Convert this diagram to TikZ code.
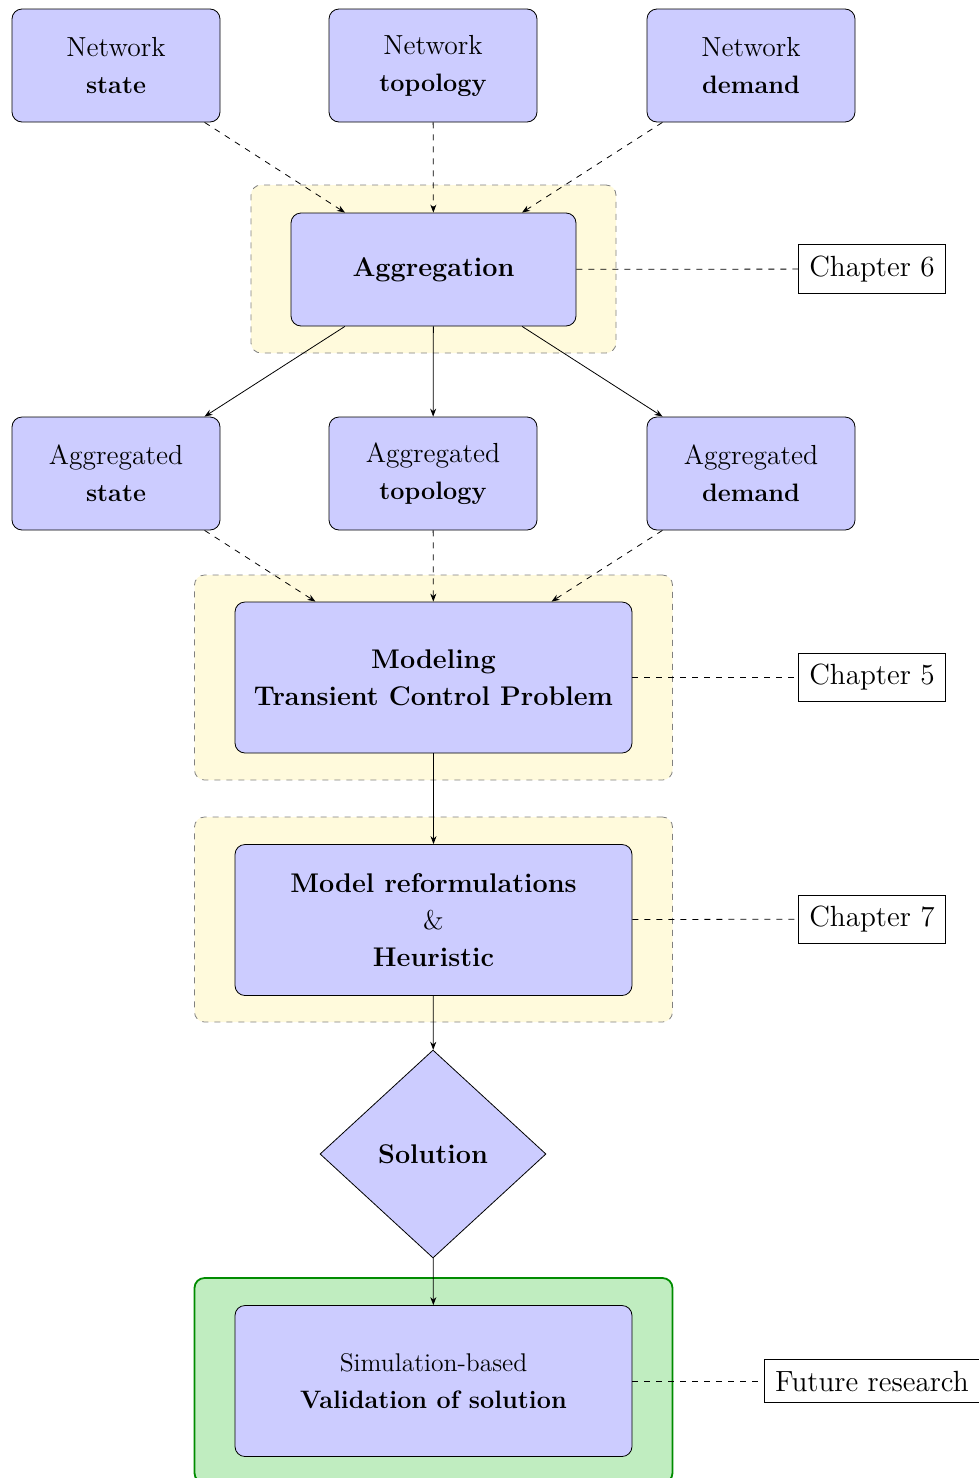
\documentclass[tikz,border=0pt]{standalone}
\usepackage{fontspec}
\usetikzlibrary{shapes.geometric,arrows.meta}
\definecolor{nodeblue}{RGB}{204,204,255}
\definecolor{bgyellow}{RGB}{255,250,220}
\definecolor{bggreen}{RGB}{192,237,192}
\definecolor{greenborder}{RGB}{0,140,0}
\newcommand{\rgtxt}[1]{{\fontsize{13.8}{18.5}\selectfont\mdseries #1}}
\newcommand{\smtxt}[1]{{\fontsize{12.8}{18.5}\selectfont\mdseries #1}}
\begin{document}
\begin{tikzpicture}[x=0.5pt,y=-0.5pt,
  box/.style={draw,fill=nodeblue,rounded corners=5pt,align=center,inner sep=0pt,
    font=\fontsize{13.5}{18.5}\selectfont\bfseries},
  smallbox/.style={box,minimum width=104pt,minimum height=56.5pt,
    font=\fontsize{12.6}{18.5}\selectfont\bfseries},
  bigbox/.style={box,minimum width=198.5pt,minimum height=75.5pt},
  bgbox/.style={draw=gray,dashed,fill=bgyellow,rounded corners=5pt,inner sep=0pt},
  greenbox/.style={draw=greenborder,line width=0.9pt,fill=bggreen,rounded corners=5pt,inner sep=0pt},
  chap/.style={draw,fill=white,inner sep=5.5pt,font=\fontsize{14.6}{17}\selectfont},
  link/.style={dashed},
  arr/.style={-{Stealth[length=4pt,width=3pt]}}
]
\useasboundingbox (0,0) rectangle (979,1478);

% backgrounds
\node[bgbox,minimum width=182.5pt,minimum height=84pt] (bg1) at (433.5,269) {};
\node[bgbox,minimum width=239pt,minimum height=102.5pt] (bg2) at (433.5,677.5) {};
\node[bgbox,minimum width=239pt,minimum height=102.5pt] (bg3) at (433.5,919.5) {};
\node[greenbox,minimum width=239pt,minimum height=102.5pt] (bg4) at (433.5,1380.5) {};

% top row
\node[smallbox] (ns) at (116,65.5) {\rgtxt{Network}\\state};
\node[smallbox] (nt) at (433,65.5) {\rgtxt{Network}\\topology};
\node[smallbox] (nd) at (751,65.5) {\rgtxt{Network}\\demand};

% aggregation
\node[box,minimum width=142.5pt,minimum height=56.5pt] (agg) at (433.5,269.5) {Aggregation};
\node[chap] (c6) at (872,269) {Chapter 6};

% aggregated row
\node[smallbox] (as) at (116,473.5) {\rgtxt{Aggregated}\\state};
\node[smallbox] (at) at (433,473.5) {\rgtxt{Aggregated}\\topology};
\node[smallbox] (ad) at (751,473.5) {\rgtxt{Aggregated}\\demand};

% modeling
\node[bigbox] (mod) at (433.5,677.5) {Modeling\\Transient Control Problem};
\node[chap] (c5) at (872,677.5) {Chapter 5};

% reformulations
\node[bigbox] (ref) at (433.5,920) {Model reformulations\\{\mdseries\&}\\Heuristic};
\node[chap] (c7) at (872,919) {Chapter 7};

% solution
\node[draw,fill=nodeblue,diamond,minimum width=113pt,minimum height=104pt,inner sep=0pt,
  font=\fontsize{13.5}{18.5}\selectfont\bfseries] (sol) at (433,1154) {Solution};

% validation
\node[bigbox,font=\fontsize{12.6}{18.5}\selectfont\bfseries] (val) at (433.5,1381) {\smtxt{Simulation-based}\\Validation of solution};
\node[chap] (fr) at (872,1381) {Future research};

% connectors
\draw[link,arr] (ns) -- (agg);
\draw[link,arr] (nt) -- (agg);
\draw[link,arr] (nd) -- (agg);
\draw[link] (agg) -- (c6);
\draw[arr] (agg) -- (as);
\draw[arr] (agg) -- (at);
\draw[arr] (agg) -- (ad);
\draw[link,arr] (as) -- (mod);
\draw[link,arr] (at) -- (mod);
\draw[link,arr] (ad) -- (mod);
\draw[link] (mod) -- (c5);
\draw[arr] (mod) -- (ref);
\draw[link] (ref) -- (c7);
\draw[arr] (ref) -- (sol);
\draw[arr] (sol) -- (val);
\draw[link] (val) -- (fr);
\end{tikzpicture}
\end{document}
